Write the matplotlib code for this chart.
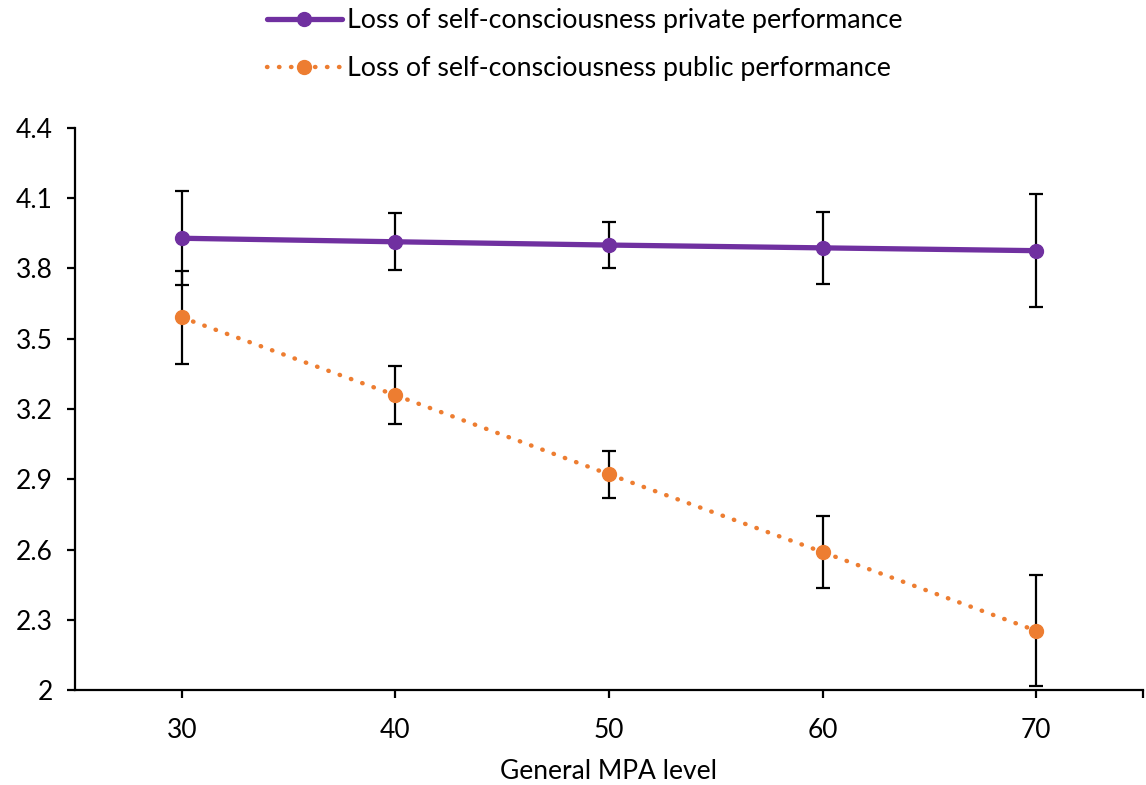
import matplotlib.pyplot as plt

# MPA levels and mean loss-of-self-consciousness scores
mpa_levels = [30, 40, 50, 60, 70]
private_scores = [3.929, 3.914, 3.900, 3.888, 3.876]
public_scores = [3.591, 3.259, 2.921, 2.589, 2.253]
private_err = [0.200, 0.122, 0.100, 0.155, 0.240]
public_err = [0.200, 0.123, 0.100, 0.155, 0.237]

y_ticks = [2.0, 2.3, 2.6, 2.9, 3.2, 3.5, 3.8, 4.1, 4.4]
y_labels = ['2', '2.3', '2.6', '2.9', '3.2', '3.5', '3.8', '4.1', '4.4']

purple = '#7030A0'
orange = '#ED7D31'

plt.rcParams['font.family'] = ['Lato', 'DejaVu Sans']

fig = plt.figure(figsize=(11.46, 7.85), dpi=100)
ax = fig.add_axes([0.0654, 0.121, 0.9320, 0.716])

# error bars sit under the lines and markers
for scores, err in [(private_scores, private_err), (public_scores, public_err)]:
    ax.errorbar(mpa_levels, scores, yerr=err, fmt='none', ecolor='black',
                elinewidth=1.6, capsize=5, capthick=1.6, zorder=2)

ax.plot(mpa_levels, private_scores, color=purple, linewidth=3.8,
        marker='o', markersize=10, solid_capstyle='round', zorder=3,
        label='Loss of self-consciousness private performance')
ax.plot(mpa_levels, public_scores, color=orange, linewidth=3.2,
        linestyle=(0, (0.1, 2.6)), dash_capstyle='round',
        marker='o', markersize=10, zorder=3,
        label='Loss of self-consciousness public performance')

ax.set_xlim(25, 75)
ax.set_ylim(2, 4.4)
ax.set_xticks(mpa_levels + [75])
ax.set_xticklabels([str(v) for v in mpa_levels] + [''])
ax.set_yticks(y_ticks)
ax.set_yticklabels(y_labels)

ax.spines['top'].set_visible(False)
ax.spines['right'].set_visible(False)
for side in ['left', 'bottom']:
    ax.spines[side].set_linewidth(1.6)
ax.tick_params(axis='both', labelsize=19, width=1.6, length=6)
ax.tick_params(axis='x', pad=14)
ax.tick_params(axis='y', pad=10)

ax.set_xlabel('General MPA level', fontsize=19, labelpad=12)

fig.legend(loc='upper center', bbox_to_anchor=(0.51, 1.02), frameon=False,
           fontsize=19.3, handlelength=2.8, handletextpad=0.2,
           labelspacing=0.85)

plt.savefig('out.png', dpi=100)
